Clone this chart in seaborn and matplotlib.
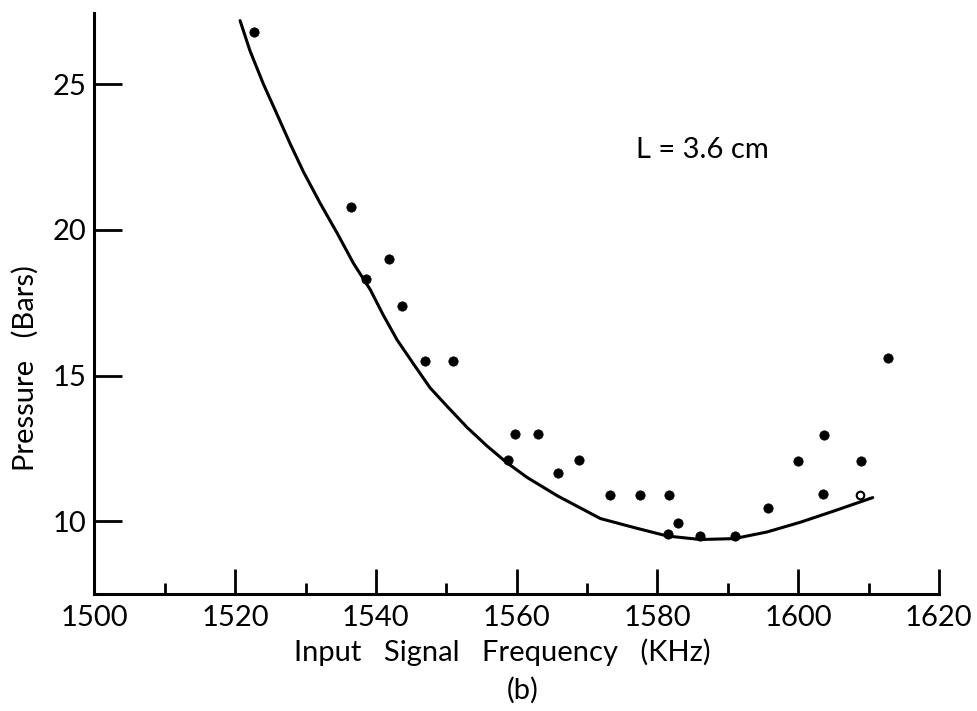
import numpy as np
import pandas as pd
import matplotlib
matplotlib.use("Agg")
import matplotlib.pyplot as plt
from matplotlib.ticker import MultipleLocator
import seaborn as sns

# -----------------------------
# Data
# -----------------------------
# measured points (filled dots)
freq_pts = [1522.7, 1536.5, 1538.6, 1541.8, 1543.7, 1547.0, 1551.0,
            1558.8, 1559.7, 1563.0, 1565.9, 1568.8, 1573.2, 1577.5,
            1581.7, 1582.9, 1581.5, 1586.0, 1591.0, 1595.7, 1600.0,
            1603.7, 1603.5, 1609.0, 1612.7]
press_pts = [26.8, 20.8, 18.3, 19.0, 17.4, 15.5, 15.5,
             12.1, 13.0, 13.0, 11.65, 12.1, 10.9, 10.9,
             10.9, 9.95, 9.55, 9.5, 9.5, 10.45, 12.05,
             12.95, 10.95, 12.05, 15.6]

# open circle point
freq_open = [1608.8]
press_open = [10.9]

# fitted curve
freq_curve = [1520.7, 1522.1, 1524.0, 1525.9, 1527.8, 1529.7, 1532.1,
              1534.5, 1536.8, 1539.2, 1541.0, 1543.0, 1545.4, 1547.7,
              1550.1, 1553.0, 1555.8, 1558.6, 1561.5, 1565.8, 1571.9,
              1576.7, 1581.4, 1586.1, 1590.9, 1595.6, 1600.4, 1605.1,
              1610.6]
press_curve = [27.19, 26.16, 25.02, 24.0, 22.97, 22.0, 20.91,
               19.89, 18.86, 17.95, 17.1, 16.23, 15.38, 14.58,
               13.95, 13.21, 12.58, 12.01, 11.50, 10.87, 10.09,
               9.78, 9.49, 9.37, 9.40, 9.63, 9.97, 10.35,
               10.81]

x_ticks = [1500, 1520, 1540, 1560, 1580, 1600, 1620]
y_ticks = [10, 15, 20, 25]

# -----------------------------
# Plot
# -----------------------------
sns.set_style("white")
plt.rcParams['font.family'] = ['Lato', 'DejaVu Sans']

fig = plt.figure(figsize=(9.77, 7.11), dpi=100)
ax = fig.add_axes([0.0966, 0.1646, 0.8644, 0.8171])

curve = pd.DataFrame({"freq": freq_curve, "press": press_curve})
pts = pd.DataFrame({"freq": freq_pts, "press": press_pts})
opn = pd.DataFrame({"freq": freq_open, "press": press_open})

sns.lineplot(data=curve, x="freq", y="press", sort=False, color="black",
             linewidth=2.2, ax=ax)
sns.scatterplot(data=pts, x="freq", y="press", color="black", s=45,
                edgecolor="black", ax=ax, zorder=3)
sns.scatterplot(data=opn, x="freq", y="press", facecolor="white", s=30,
                edgecolor="black", linewidth=1.5, ax=ax, zorder=3)

ax.set_xlim(1500, 1620)
ax.set_ylim(7.5, 27.45)
ax.set_xticks(x_ticks)
ax.set_yticks(y_ticks)
ax.xaxis.set_minor_locator(MultipleLocator(10))

for s in ["top", "right"]:
    ax.spines[s].set_visible(False)
for s in ["left", "bottom"]:
    ax.spines[s].set_linewidth(2.2)
    ax.spines[s].set_color("black")

ax.tick_params(axis="x", which="both", bottom=True)
ax.tick_params(axis="y", which="major", left=True)
ax.tick_params(axis="x", which="major", direction="in", length=18, width=2,
               labelsize=21, pad=8, colors="black")
ax.tick_params(axis="x", which="minor", direction="in", length=8, width=2,
               colors="black")
ax.tick_params(axis="y", which="major", direction="in", length=20, width=2,
               labelsize=21, pad=6, colors="black")

ax.set_xlabel("Input   Signal   Frequency   (KHz)", fontsize=21, color="black")
ax.xaxis.set_label_coords(0.483, -0.0998)
ax.xaxis.label.set_va("center")

ax.set_ylabel("Pressure   (Bars)", fontsize=21, color="black")
ax.yaxis.set_label_coords(-0.082, 0.389)
ax.yaxis.label.set_va("center")

ax.text(1577.0, 22.75, "L = 3.6 cm", fontsize=21, ha="left", va="center",
        color="black")
ax.text(0.5075, -0.165, "(b)", transform=ax.transAxes, fontsize=21,
        ha="center", va="center", color="black")

fig.savefig("out.png", dpi=100)
